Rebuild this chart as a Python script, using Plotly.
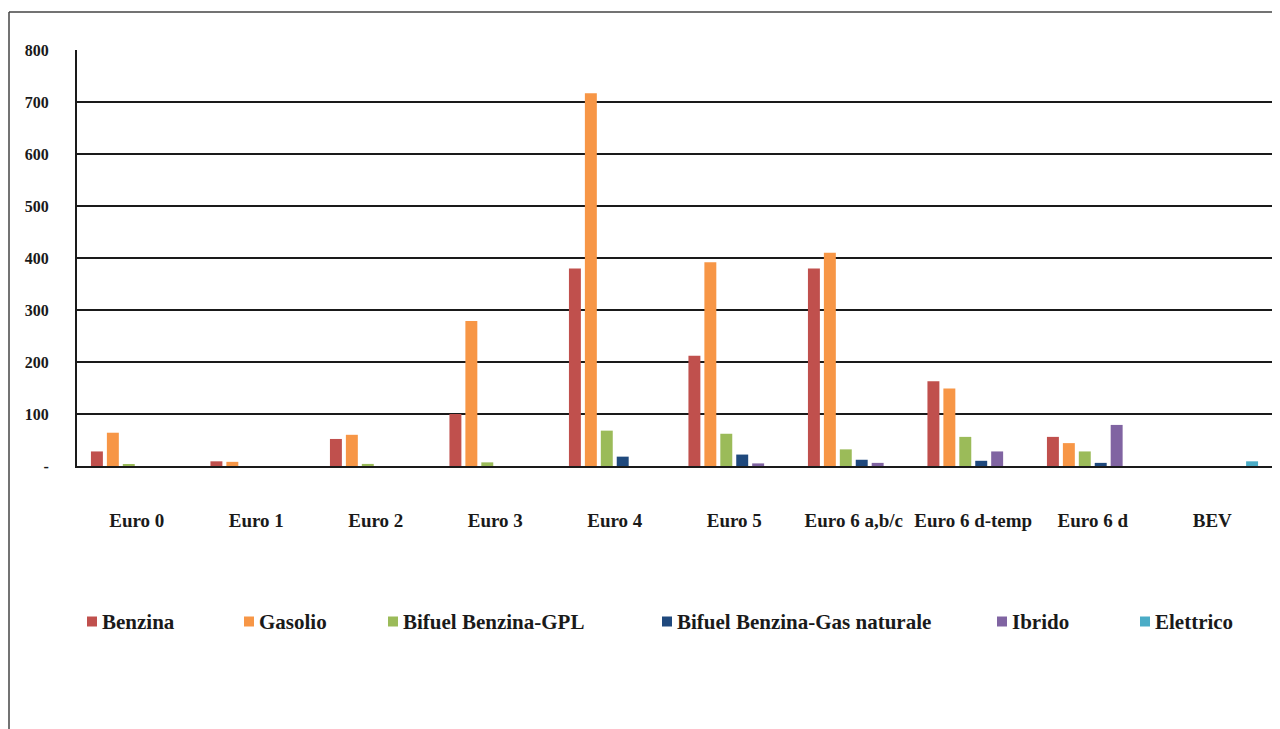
import plotly.graph_objects as go

categories = ["Euro 0", "Euro 1", "Euro 2", "Euro 3", "Euro 4", "Euro 5",
              "Euro 6 a,b/c", "Euro 6 d-temp", "Euro 6 d", "BEV"]

benzina = [28, 9, 52, 100, 380, 212, 380, 163, 56, 0]
gasolio = [64, 8, 60, 279, 717, 392, 410, 149, 44, 0]
gpl = [2, 0, 4, 7, 68, 62, 32, 56, 28, 0]
gas_naturale = [0, 0, 0, 0, 18, 22, 12, 10, 6, 0]
ibrido = [0, 0, 0, 0, 0, 5, 6, 28, 79, 0]
elettrico = [0, 0, 0, 0, 0, 0, 0, 0, 0, 9]

series_names = ["Benzina", "Gasolio", "Bifuel Benzina-GPL",
                "Bifuel Benzina-Gas naturale", "Ibrido", "Elettrico"]
series_values = [benzina, gasolio, gpl, gas_naturale, ibrido, elettrico]
series_colors = ["#C0504D", "#F79646", "#9BBB59", "#1F497D", "#8064A2", "#4BACC6"]

y_ticks = [0, 100, 200, 300, 400, 500, 600, 700, 800]
y_tick_labels = ["-", "100", "200", "300", "400", "500", "600", "700", "800"]

FONT = "Liberation Serif, Times New Roman, serif"
W, H = 1280, 729
OFF = 8  # page body margin offset
# target plot area in screen pixels: x 77..1272, y 50..466
ML, MT = 77 - OFF, 50 - OFF
MR = W - (1272 - OFF)
MB = H - (466 - OFF)
PW, PH = W - ML - MR, H - MT - MB


def px_x(x):
    return (x - OFF - ML) / PW


def px_y(y):
    return (H - MB - (y - OFF)) / PH


# hand-placed legend: screen-pixel x of each marker's left edge
legend_px = [87, 244, 388, 662, 997, 1140]
legend_py = 621.5

fig = go.Figure()
for name, vals, col in zip(series_names, series_values, series_colors):
    fig.add_trace(go.Bar(x=categories, y=vals, name=name, marker_color=col,
                         marker_line_width=0, showlegend=False))

fig.update_layout(
    width=W, height=H,
    paper_bgcolor="white", plot_bgcolor="white",
    margin=dict(l=ML, r=MR, t=MT, b=MB),
    barmode="group", bargap=0.2, bargroupgap=0.25,
    font=dict(family=FONT, color="#1a1a1a"),
)
fig.update_xaxes(
    automargin=False,
    showgrid=False, showline=True, linecolor="#1a1a1a", linewidth=2,
    ticks="", ticklabelstandoff=36,
    tickfont=dict(family=FONT, size=19, color="#1a1a1a", weight="bold"),
)
fig.update_yaxes(
    automargin=False,
    range=[0, 800], tickvals=y_ticks, ticktext=y_tick_labels,
    showgrid=True, gridcolor="#1a1a1a", gridwidth=2,
    showline=True, linecolor="#1a1a1a", linewidth=2,
    zeroline=False, ticks="", ticklabelstandoff=23,
    tickfont=dict(family=FONT, size=16, color="#1a1a1a", weight="bold"),
)

for name, col, lpx in zip(series_names, series_colors, legend_px):
    fig.add_shape(type="rect", xref="paper", yref="paper",
                  x0=px_x(lpx), x1=px_x(lpx + 10),
                  y0=px_y(legend_py + 5), y1=px_y(legend_py - 5),
                  line=dict(width=0), fillcolor=col)
    fig.add_annotation(text="<b>" + name + "</b>", xref="paper", yref="paper",
                       x=px_x(lpx + 13), y=px_y(legend_py),
                       xanchor="left", yanchor="middle", showarrow=False,
                       font=dict(family=FONT, size=21, color="#1a1a1a"))

# outer frame (top and left edges visible)
fig.add_shape(type="line", xref="paper", yref="paper",
              x0=px_x(9), x1=px_x(W + 10), y0=px_y(12), y1=px_y(12),
              line=dict(color="#444444", width=1.5))
fig.add_shape(type="line", xref="paper", yref="paper",
              x0=px_x(9), x1=px_x(9), y0=px_y(12), y1=px_y(H + 10),
              line=dict(color="#444444", width=1.5))

fig.write_html("out.html")
